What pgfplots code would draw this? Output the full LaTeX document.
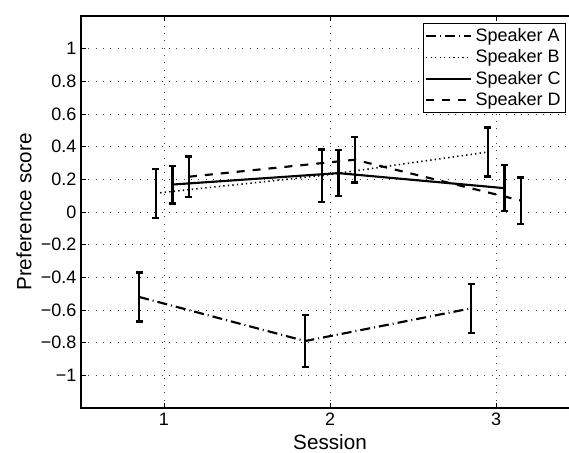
\documentclass[border=0pt]{standalone}
\usepackage{fontspec}
\setmainfont{Liberation Sans}
\usepackage{pgfplots}
\pgfplotsset{compat=1.18}

\pgfplotsset{
  ebar/.style={
    error bars/y dir=both,
    error bars/y explicit,
    error bars/error bar style={solid, black, line width=1.8pt},
    error bars/error mark options={solid, black, rotate=90, mark size=2.6pt, line width=1.8pt},
  },
}

\begin{document}
\begin{tikzpicture}
\begin{axis}[
    scale only axis,
    width=373.5pt, height=294pt,
    xmin=0.5, xmax=3.5, ymin=-1.2, ymax=1.2,
    xtick={1,2,3},
    ytick={-1,-0.8,-0.6,-0.4,-0.2,0,0.2,0.4,0.6,0.8,1},
    yticklabels={−1,−0.8,−0.6,−0.4,−0.2,0,0.2,0.4,0.6,0.8,1},
    /pgf/number format/assume math mode=true,
    tick align=inside,
    major tick length=3.75pt,
    tick style={black, line width=0.6pt},
    axis line style={line width=0.9pt},
    grid=major,
    grid style={black!75, line width=0.6pt, dash pattern=on 0.75pt off 4.75pt},
    ticklabel style={font=\fontsize{13.5}{15}\selectfont},
    label style={font=\fontsize{15.5}{18}\selectfont},
    xlabel={Session},
    ylabel={Preference score},
    legend cell align=left,
    legend image code/.code={\draw[#1] (0pt,0pt) -- (34pt,0pt);},
    legend style={at={(0.973,0.981)}, anchor=north east, draw=black,
      line width=0.6pt, font=\fontsize{13.5}{16}\selectfont,
      inner sep=1pt, row sep=0pt, nodes={inner sep=2.4pt}},
  ]
  % Speaker A
  \addplot[black, line width=1.6pt, dash pattern=on 7.5pt off 3pt on 0.75pt off 3pt, ebar]
    coordinates {(0.85,-0.52) +- (0,0.15) (1.85,-0.79) +- (0,0.16) (2.85,-0.59) +- (0,0.15)};
  \addlegendentry{Speaker A}
  % Speaker B
  \addplot[black, line width=1.2pt, dash pattern=on 1pt off 2.4pt, ebar]
    coordinates {(0.95,0.115) +- (0,0.15) (1.95,0.223) +- (0,0.16) (2.95,0.367) +- (0,0.15)};
  \addlegendentry{Speaker B}
  % Speaker C
  \addplot[black, line width=1.6pt, solid, ebar]
    coordinates {(1.05,0.168) +- (0,0.115) (2.05,0.238) +- (0,0.14) (3.05,0.146) +- (0,0.14)};
  \addlegendentry{Speaker C}
  % Speaker D
  \addplot[black, line width=1.6pt, dash pattern=on 6pt off 6pt, ebar]
    coordinates {(1.15,0.216) +- (0,0.123) (2.15,0.32) +- (0,0.14) (3.15,0.07) +- (0,0.142)};
  \addlegendentry{Speaker D}
\end{axis}
\pgfresetboundingbox
\useasboundingbox ([xshift=-60.75pt,yshift=-33pt]current axis.south west)
  rectangle ([xshift=-7.5pt,yshift=12pt]current axis.north east);
\end{tikzpicture}
\end{document}
